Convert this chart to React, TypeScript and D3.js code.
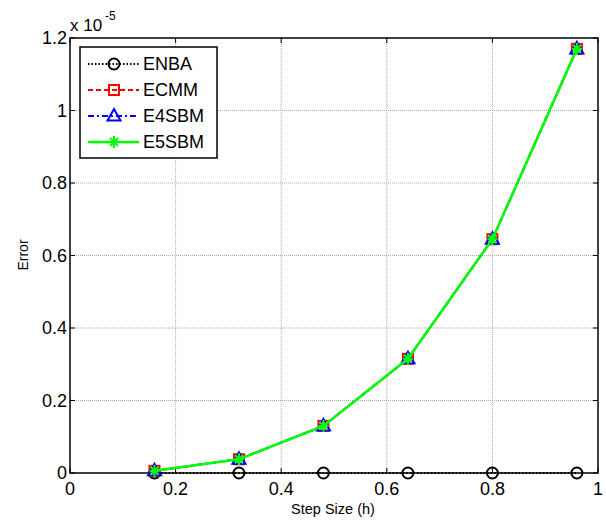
import React from "react";
import * as d3 from "d3";

const steps = [0.16, 0.32, 0.48, 0.64, 0.8, 0.96];
const enba = [0.0, 0.0, 0.0, 0.0, 0.0, 0.0];
const ecmm = [0.006, 0.038, 0.13, 0.315, 0.645, 1.17];
const e4sbm = [0.006, 0.038, 0.13, 0.315, 0.645, 1.17];
const e5sbm = [0.006, 0.038, 0.13, 0.315, 0.645, 1.17];
const xTicks = [0, 0.2, 0.4, 0.6, 0.8, 1];
const yTicks = [0, 0.2, 0.4, 0.6, 0.8, 1, 1.2];
const names = ["ENBA", "ECMM", "E4SBM", "E5SBM"];

export default function App() {
  const width = 606,
    height = 522;
  const left = 70,
    right = 598,
    top = 38,
    bottom = 473;
  const font = "Liberation Sans, Arial, sans-serif";

  const x = d3.scaleLinear().domain([0, 1]).range([left, right]);
  const y = d3.scaleLinear().domain([0, 1.2]).range([bottom, top]);
  const line = d3
    .line<number>()
    .x((d, i) => x(steps[i]))
    .y((d) => y(d));

  const series = [
    { vals: enba, color: "#000", dash: "1.5,2", marker: "circle", w: 2 },
    { vals: ecmm, color: "#ff0000", dash: "5,3", marker: "square", w: 2 },
    { vals: e4sbm, color: "#0000ff", dash: "6,3,2,3", marker: "triangle", w: 2 },
    { vals: e5sbm, color: "#00ff00", dash: "", marker: "star", w: 2.5 },
  ];

  const marker = (kind: string, cx: number, cy: number, color: string, k: string) => {
    if (kind === "circle")
      return <circle key={k} cx={cx} cy={cy} r={5.5} fill="none" stroke={color} strokeWidth={2} />;
    if (kind === "square")
      return <rect key={k} x={cx - 5} y={cy - 5} width={10} height={10} fill="none" stroke={color} strokeWidth={2} />;
    if (kind === "triangle")
      return (
        <path key={k} d={`M${cx},${cy - 7}L${cx + 6.5},${cy + 4.5}L${cx - 6.5},${cy + 4.5}Z`} fill="none" stroke={color} strokeWidth={2} />
      );
    return (
      <g key={k} stroke={color} strokeWidth={2}>
        <line x1={cx - 5} x2={cx + 5} y1={cy} y2={cy} />
        <line x1={cx} x2={cx} y1={cy - 6} y2={cy + 6} />
        <line x1={cx - 4} x2={cx + 4} y1={cy - 4} y2={cy + 4} />
        <line x1={cx - 4} x2={cx + 4} y1={cy + 4} y2={cy - 4} />
      </g>
    );
  };

  return (
    <svg width={width} height={height} style={{ position: "absolute", left: 0, top: 0, background: "#fff" }}>
      <rect width={width} height={height} fill="#fff" />
      {/* grid */}
      <g stroke="#aaa" strokeWidth={1} strokeDasharray="1,1">
        {xTicks.slice(1, -1).map((t) => (
          <line key={"gx" + t} x1={x(t)} x2={x(t)} y1={top} y2={bottom} />
        ))}
        {yTicks.slice(1, -1).map((t) => (
          <line key={"gy" + t} x1={left} x2={right} y1={y(t)} y2={y(t)} />
        ))}
      </g>
      {/* ticks */}
      <g stroke="#000" strokeWidth={1}>
        {xTicks.map((t) => (
          <g key={"tx" + t}>
            <line x1={x(t)} x2={x(t)} y1={bottom} y2={bottom - 5} />
            <line x1={x(t)} x2={x(t)} y1={top} y2={top + 5} />
          </g>
        ))}
        {yTicks.map((t) => (
          <g key={"ty" + t}>
            <line x1={left} x2={left + 5} y1={y(t)} y2={y(t)} />
            <line x1={right} x2={right - 5} y1={y(t)} y2={y(t)} />
          </g>
        ))}
      </g>
      <rect x={left} y={top} width={right - left} height={bottom - top} fill="none" stroke="#000" strokeWidth={1.5} />
      {/* tick labels */}
      <g fontFamily={font} fontSize={18} fill="#000">
        {xTicks.map((t) => (
          <text key={"lx" + t} x={x(t)} y={bottom + 22} textAnchor="middle">
            {d3.format("")(t)}
          </text>
        ))}
        {yTicks.map((t) => (
          <text key={"ly" + t} x={left - 3} y={y(t) + 6} textAnchor="end">
            {d3.format("")(t)}
          </text>
        ))}
      </g>
      <text x={70} y={31} fontFamily={font} fontSize={17}>
        x 10
      </text>
      <text x={105} y={20} fontFamily={font} fontSize={12}>
        -5
      </text>
      <text x={333} y={514} textAnchor="middle" fontFamily={font} fontSize={14.5}>
        Step Size (h)
      </text>
      <text transform="translate(28,255) rotate(-90)" textAnchor="middle" fontFamily={font} fontSize={14}>
        Error
      </text>
      {/* series */}
      {series.map((s, si) => (
        <g key={"s" + si}>
          <path d={line(s.vals) || ""} fill="none" stroke={s.color} strokeWidth={s.w} strokeDasharray={s.dash} />
          {s.vals.map((v, i) => marker(s.marker, x(steps[i]), y(v), s.color, "m" + si + i))}
        </g>
      ))}
      {/* legend */}
      <g>
        <rect x={80} y={47} width={137} height={111} fill="#fff" stroke="#000" strokeWidth={1.5} />
        {series.map((s, i) => {
          const ly = 64 + i * 26;
          return (
            <g key={"lg" + i}>
              <line x1={88} x2={139} y1={ly} y2={ly} stroke={s.color} strokeWidth={s.w} strokeDasharray={s.dash} />
              {marker(s.marker, 114, ly, s.color, "lm" + i)}
              <text x={143} y={ly + 6} fontFamily={font} fontSize={18}>
                {names[i]}
              </text>
            </g>
          );
        })}
      </g>
    </svg>
  );
}
